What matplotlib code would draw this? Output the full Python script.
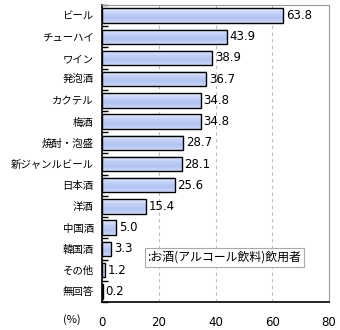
import matplotlib
matplotlib.use("Agg")
import matplotlib.pyplot as plt
import numpy as np
from matplotlib.colors import LinearSegmentedColormap

plt.rcParams["font.family"] = ["Noto Sans CJK JP", "DejaVu Sans"]

categories = ["ビール", "チューハイ", "ワイン", "発泡酒", "カクテル", "梅酒", "焼酎・泡盛",
              "新ジャンルビール", "日本酒", "洋酒", "中国酒", "韓国酒", "その他", "無回答"]
values = [63.8, 43.9, 38.9, 36.7, 34.8, 34.8, 28.7, 28.1, 25.6, 15.4, 5.0, 3.3, 1.2, 0.2]
xticks = [0, 20, 40, 60, 80]
legend_label = ":お酒(アルコール飲料)飲用者"

fig = plt.figure(figsize=(3.4, 3.3), dpi=100)
ax = fig.add_axes([0.30, 0.085, 0.668, 0.90])

n = len(categories)
ypos = np.arange(n)
bar_h = 0.68

# vertical gradient fill for each bar
cmap = LinearSegmentedColormap.from_list(
    "barfill", ["#e6ecfd", "#c4d2f7", "#b3c3f2", "#cdd9f8"])
grad = np.linspace(0, 1, 64).reshape(-1, 1)
for y, v in zip(ypos, values):
    ax.imshow(grad, cmap=cmap, aspect="auto", extent=(0, v, y + bar_h / 2, y - bar_h / 2),
              zorder=2, interpolation="bilinear")
    ax.add_patch(plt.Rectangle((0, y - bar_h / 2), v, bar_h, facecolor="none",
                               edgecolor="black", linewidth=1.0, zorder=3))
    ax.text(v + 0.9, y, f"{v:.1f}", va="center", ha="left", fontsize=8.5,
            family="DejaVu Sans", zorder=4)

ax.set_xlim(0, 80)
ax.set_ylim(n - 0.5, -0.5)
ax.set_xticks(xticks)
ax.set_xticklabels([str(t) for t in xticks], fontsize=8.5, family="DejaVu Sans")
ax.tick_params(axis="x", length=0, pad=10)
ax.xaxis.grid(True, linestyle=(0, (3, 3)), color="#bbbbbb", linewidth=0.8, zorder=0)
ax.set_axisbelow(True)

# category labels and tick marks at category boundaries
ax.set_yticks(ypos)
ax.set_yticklabels(categories, fontsize=7.5)
ax.tick_params(axis="y", length=0, pad=6)
ax.set_yticks(np.arange(n + 1) - 0.5, minor=True)
ax.tick_params(axis="y", which="minor", direction="in", length=4, width=1.0, color="black")

for side in ("top", "right"):
    ax.spines[side].set_color("#999999")
    ax.spines[side].set_linewidth(0.8)
for side in ("left", "bottom"):
    ax.spines[side].set_color("black")
    ax.spines[side].set_linewidth(1.2)

ax.text(16.0, 11.4, legend_label, fontsize=8.6, va="center", ha="left",
        bbox=dict(boxstyle="square,pad=0.22", facecolor="white", edgecolor="#aaaaaa",
                  linewidth=0.8), zorder=5)

fig.text(72 / 340, 1 - 320 / 330, "(%)", fontsize=8, ha="center", va="center")

fig.savefig("out.png", dpi=100)
